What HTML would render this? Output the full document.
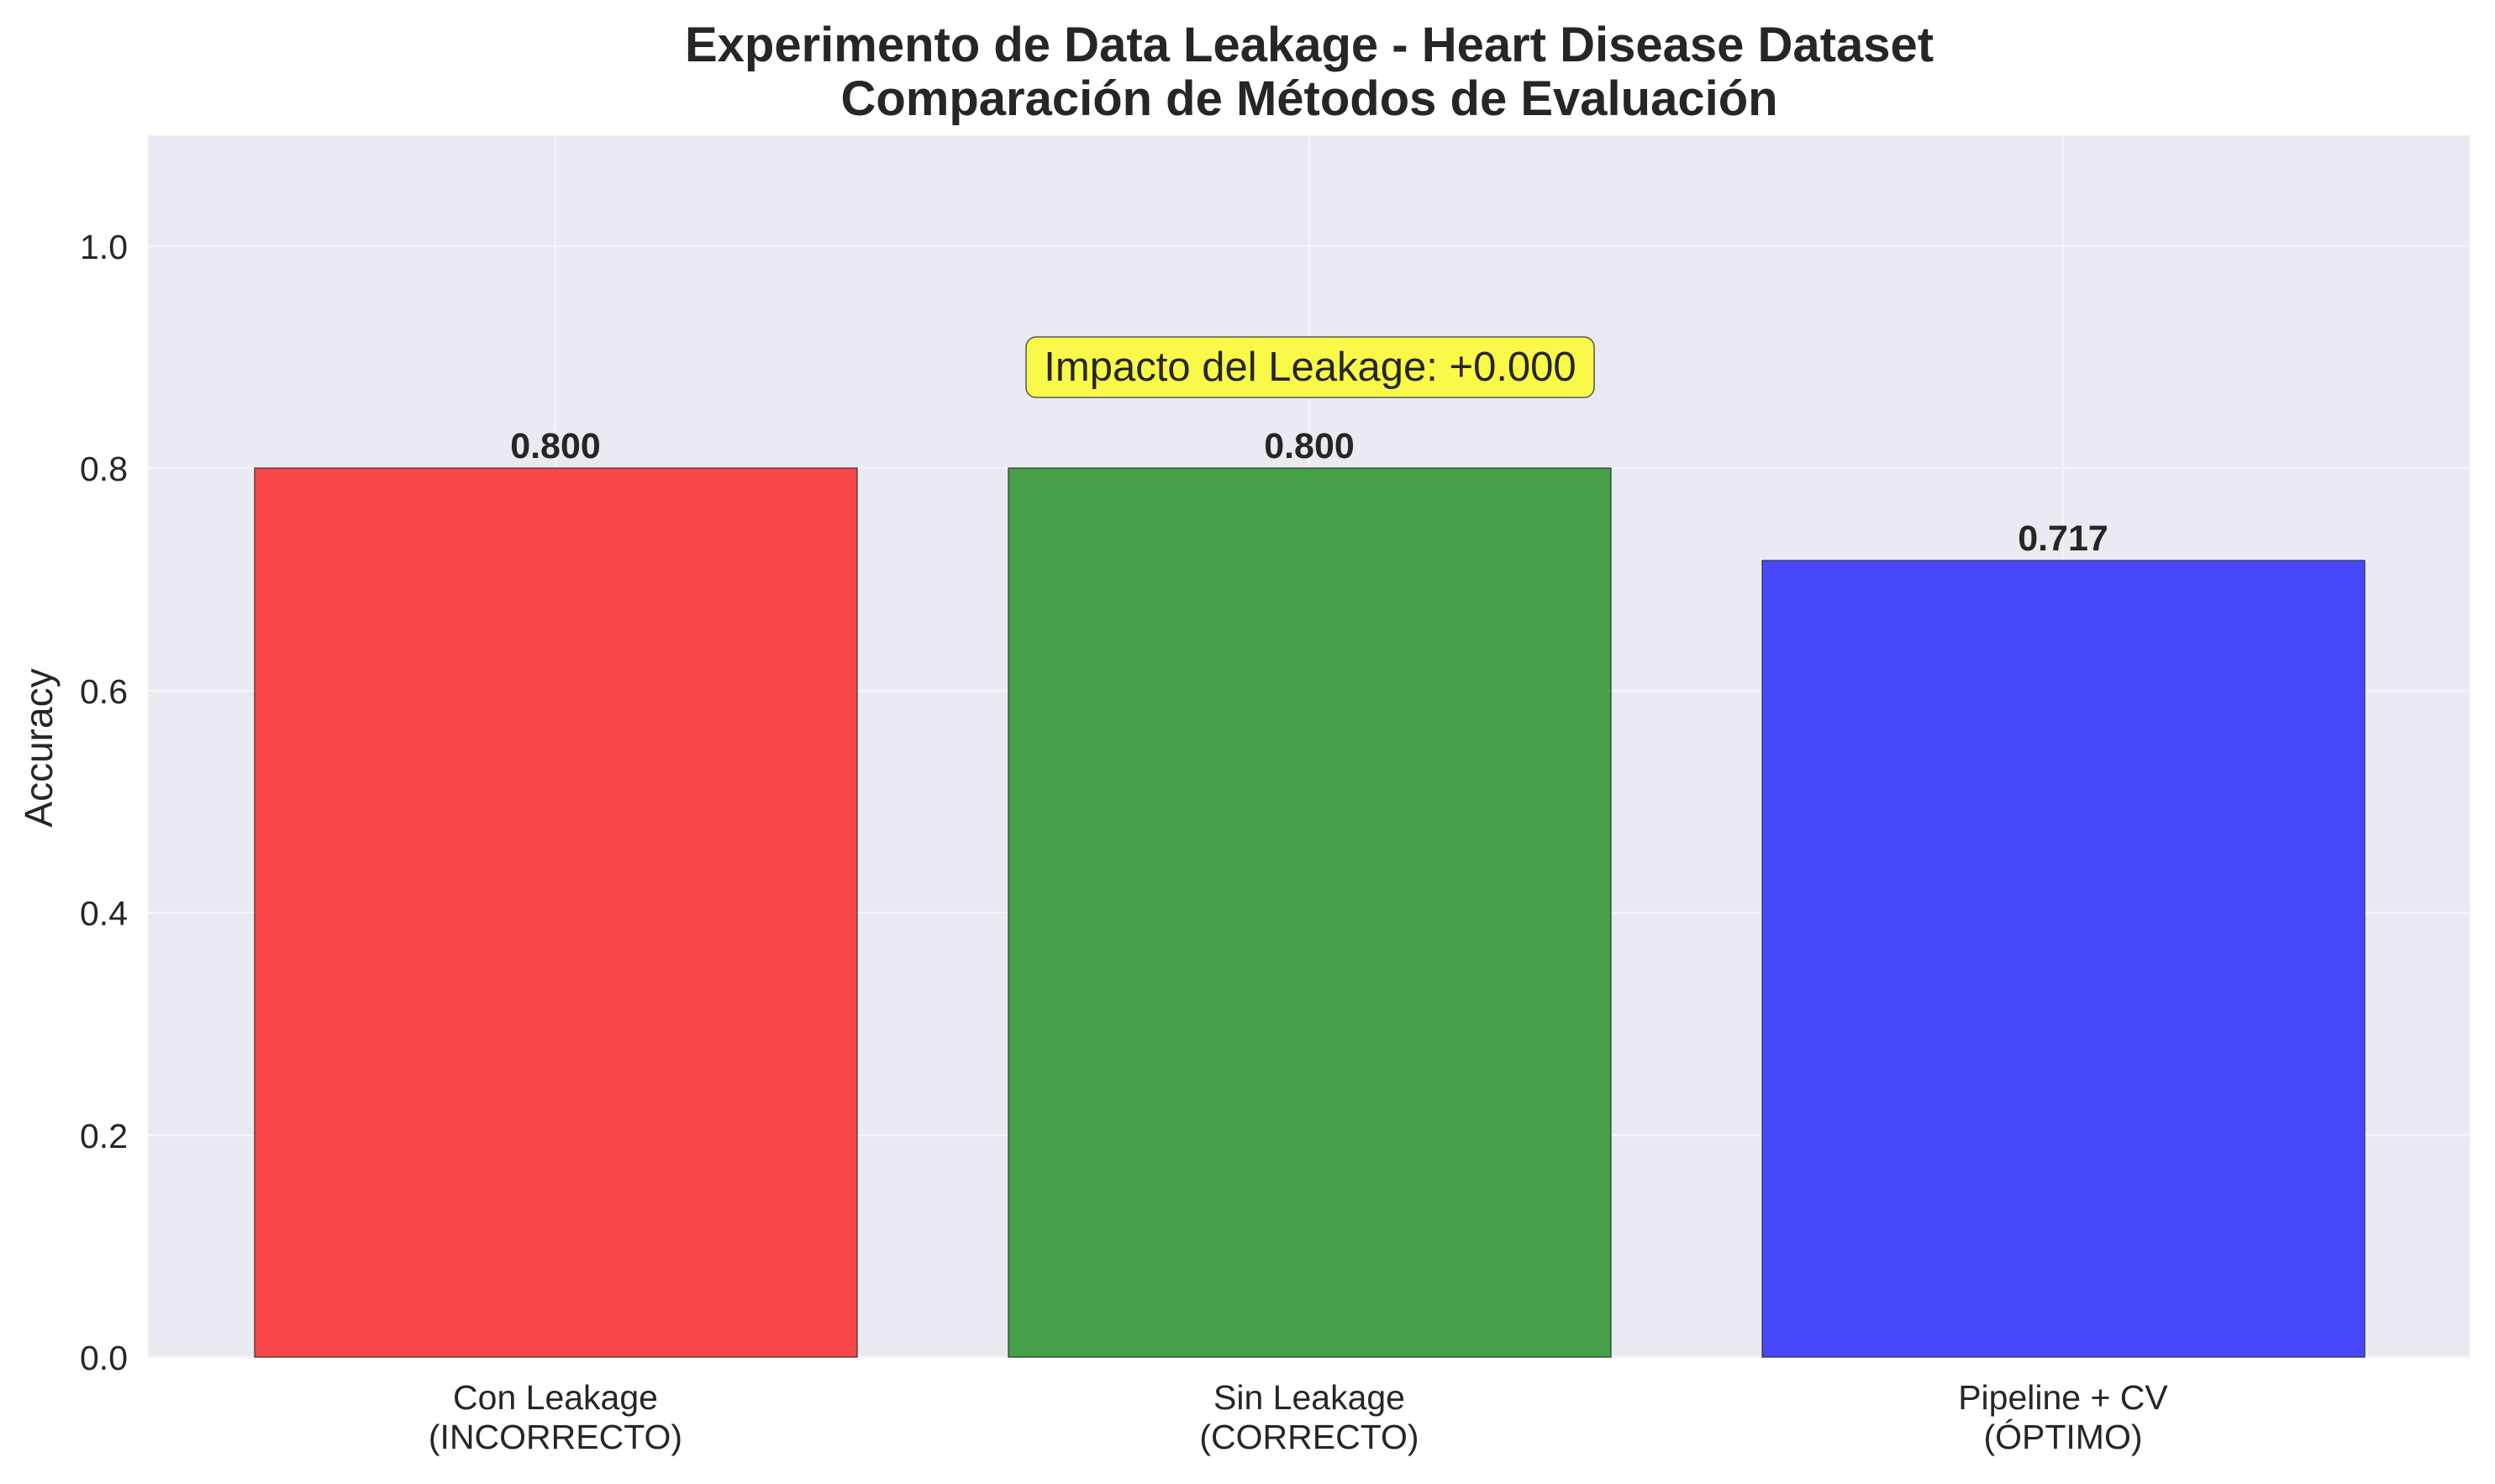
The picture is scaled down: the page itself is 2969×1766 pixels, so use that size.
<!DOCTYPE html>
<html><head><meta charset="utf-8"><style>
html,body{margin:0;padding:0;background:#fff;}
svg{display:block;font-family:"Liberation Sans",Arial,sans-serif;}
</style></head><body>
<svg width="2969" height="1766" viewBox="0 0 2969 1766" xmlns="http://www.w3.org/2000/svg">
<rect x="0" y="0" width="2969" height="1766" fill="#ffffff"/>
<rect x="176" y="161" width="2763" height="1454" fill="#eaeaf2"/>
<g stroke="#f4f4f8" stroke-width="2.5">
<line x1="176" y1="1615" x2="2939" y2="1615"/>
<line x1="176" y1="1351" x2="2939" y2="1351"/>
<line x1="176" y1="1086" x2="2939" y2="1086"/>
<line x1="176" y1="822" x2="2939" y2="822"/>
<line x1="176" y1="557" x2="2939" y2="557"/>
<line x1="176" y1="293" x2="2939" y2="293"/>
<line x1="661" y1="161" x2="661" y2="1615"/>
<line x1="1558" y1="161" x2="1558" y2="1615"/>
<line x1="2455" y1="161" x2="2455" y2="1615"/>
</g>
<g stroke="#333" stroke-width="1.2">
<rect x="303" y="557" width="717" height="1058" fill="#f94649"/>
<rect x="1200" y="557" width="717" height="1058" fill="#46a049"/>
<rect x="2097" y="667" width="717" height="948" fill="#4646fb"/>
</g>
<g font-size="41" fill="#262626" text-anchor="end">
<text x="152" y="1630">0.0</text>
<text x="152" y="1366">0.2</text>
<text x="152" y="1101">0.4</text>
<text x="152" y="837">0.6</text>
<text x="152" y="572">0.8</text>
<text x="152" y="308">1.0</text>
</g>
<text transform="translate(62,890) rotate(-90)" font-size="46" fill="#262626" text-anchor="middle">Accuracy</text>
<g font-size="41" fill="#262626" text-anchor="middle">
<text x="661" y="1677">Con Leakage</text>
<text x="661" y="1724">(INCORRECTO)</text>
<text x="1558" y="1677">Sin Leakage</text>
<text x="1558" y="1724">(CORRECTO)</text>
<text x="2455" y="1677">Pipeline + CV</text>
<text x="2455" y="1724">(ÓPTIMO)</text>
</g>
<g font-size="43" font-weight="bold" fill="#262626" text-anchor="middle">
<text x="661" y="545">0.800</text>
<text x="1558" y="545">0.800</text>
<text x="2455" y="655">0.717</text>
</g>
<g font-size="58" font-weight="bold" fill="#262626" text-anchor="middle">
<text x="1558" y="73">Experimento de Data Leakage - Heart Disease Dataset</text>
<text x="1558" y="137">Comparación de Métodos de Evaluación</text>
</g>
<rect x="1221" y="401" width="676" height="72" rx="12" ry="12" fill="#f9f949" stroke="#555" stroke-width="1.5"/>
<text x="1559" y="453" font-size="49" fill="#262626" text-anchor="middle">Impacto del Leakage: +0.000</text>
</svg>
</body></html>
